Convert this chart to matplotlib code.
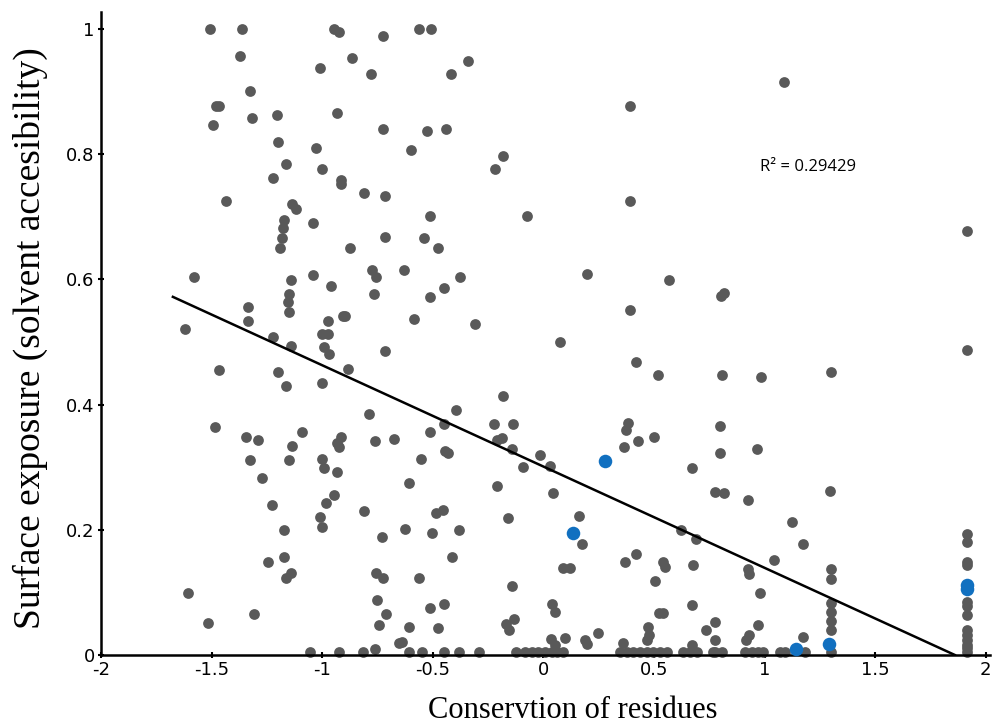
import numpy as np
import matplotlib
matplotlib.use("Agg")
import matplotlib.pyplot as plt
from matplotlib.ticker import FormatStrFormatter

# residues (conservation, surface exposure), grouped by area of the plot
upper_pts = [(-1.508, 1.000), (-1.363, 1.000), (-0.945, 1.000), (-0.922, 0.995), (-0.724, 0.989),
             (-1.372, 0.957), (-0.864, 0.954), (-1.008, 0.938), (-0.778, 0.928), (-1.327, 0.901),
             (-1.481, 0.877), (-1.467, 0.877), (-1.318, 0.858), (-1.205, 0.863), (-0.935, 0.866),
             (-1.494, 0.847), (-0.724, 0.840), (-1.200, 0.819), (-1.030, 0.810), (-1.164, 0.784),
             (-1.003, 0.776), (-1.223, 0.762), (-0.917, 0.759), (-0.917, 0.752), (-0.810, 0.738),
             (-0.716, 0.733), (-1.435, 0.725), (-1.137, 0.720), (-1.119, 0.712), (-1.173, 0.695),
             (-1.043, 0.690), (-1.178, 0.682), (-1.182, 0.666), (-0.716, 0.668), (-1.191, 0.650),
             (-0.873, 0.650), (-0.563, 1.000), (-0.509, 1.000), (-0.341, 0.949), (-0.418, 0.928),
             (0.391, 0.877), (-0.527, 0.837), (-0.441, 0.840), (-0.597, 0.807), (-0.183, 0.797),
             (-0.219, 0.776), (-0.513, 0.701), (-0.075, 0.701), (0.391, 0.725), (-0.540, 0.666),
             (1.087, 0.915), (1.915, 0.677)]

mid_left_pts = [(-1.580, 0.604), (-1.142, 0.599), (-1.043, 0.607), (-0.958, 0.589), (-0.774, 0.615),
                (-0.756, 0.604), (-0.765, 0.577), (-1.151, 0.577), (-1.155, 0.564), (-1.151, 0.548),
                (-1.336, 0.556), (-1.336, 0.534), (-1.621, 0.521), (-0.972, 0.534), (-0.904, 0.542),
                (-0.895, 0.542), (-1.003, 0.513), (-0.972, 0.513), (-1.223, 0.508), (-1.142, 0.494),
                (-0.994, 0.492), (-0.967, 0.481), (-0.716, 0.486), (-1.467, 0.455), (-1.200, 0.452),
                (-0.882, 0.457), (-1.164, 0.430), (-1.003, 0.435), (-0.787, 0.385), (-1.485, 0.364),
                (-1.092, 0.356), (-1.345, 0.348), (-1.291, 0.343), (-1.137, 0.334), (-0.917, 0.348),
                (-0.935, 0.339), (-0.926, 0.332), (-0.760, 0.342), (-0.675, 0.345), (-1.327, 0.311),
                (-1.151, 0.311), (-1.003, 0.313)]

mid_pts = [(-0.477, 0.650), (-0.630, 0.615), (-0.377, 0.604), (-0.450, 0.586), (-0.513, 0.572),
           (-0.585, 0.537), (-0.310, 0.529), (0.197, 0.609), (0.567, 0.599), (0.391, 0.551),
           (0.075, 0.500), (0.418, 0.468), (0.518, 0.447), (-0.183, 0.414), (-0.396, 0.391),
           (-0.224, 0.369), (-0.138, 0.369), (-0.513, 0.356), (-0.450, 0.369), (-0.188, 0.347),
           (-0.210, 0.343), (-0.142, 0.329), (-0.445, 0.326), (-0.432, 0.323), (-0.554, 0.313),
           (-0.016, 0.319), (0.382, 0.371), (0.373, 0.359), (0.427, 0.342), (0.500, 0.348),
           (0.364, 0.332), (0.802, 0.573), (0.816, 0.578), (1.915, 0.487), (0.807, 0.447),
           (0.983, 0.444), (1.300, 0.452), (0.798, 0.366), (0.798, 0.323), (0.965, 0.329)]

low_left_pts = [(-0.994, 0.299), (-0.935, 0.292), (-1.273, 0.283), (-0.945, 0.256), (-1.227, 0.240),
                (-0.985, 0.243), (-0.810, 0.230), (-1.008, 0.220), (-1.003, 0.204), (-1.173, 0.200),
                (-0.729, 0.188), (-1.173, 0.157), (-1.246, 0.149), (-1.142, 0.131), (-1.164, 0.123),
                (-0.756, 0.131), (-0.724, 0.123), (-1.607, 0.099), (-0.752, 0.088), (-1.309, 0.065),
                (-0.711, 0.065), (-1.517, 0.051), (-0.743, 0.048), (-1.056, 0.005), (-0.922, 0.005),
                (-0.814, 0.005), (-0.760, 0.010), (-0.653, 0.019)]

low_mid_pts = [(0.029, 0.302), (-0.093, 0.300), (-0.608, 0.275), (-0.210, 0.270), (0.043, 0.259),
               (0.160, 0.222), (-0.160, 0.219), (-0.486, 0.227), (-0.454, 0.232), (-0.626, 0.201),
               (-0.504, 0.195), (-0.382, 0.200), (0.174, 0.177), (-0.414, 0.157), (0.418, 0.161),
               (0.368, 0.149), (0.540, 0.149), (0.549, 0.141), (0.088, 0.139), (0.120, 0.139),
               (0.504, 0.118), (-0.563, 0.123), (-0.142, 0.110), (-0.450, 0.081), (-0.513, 0.075),
               (0.038, 0.081), (0.052, 0.069), (0.522, 0.067), (0.540, 0.067), (-0.133, 0.058),
               (-0.170, 0.050), (-0.156, 0.040), (-0.606, 0.045), (-0.477, 0.043), (0.246, 0.035),
               (0.472, 0.045), (0.477, 0.032), (0.468, 0.024), (0.097, 0.027), (0.188, 0.024),
               (0.197, 0.018), (-0.640, 0.021), (0.359, 0.019), (0.034, 0.026), (0.052, 0.016)]

low_right_pts = [(0.671, 0.080), (0.979, 0.099), (0.775, 0.053), (0.735, 0.040), (0.970, 0.048),
                 (0.929, 0.032), (0.915, 0.024), (0.671, 0.016), (0.775, 0.024), (0.671, 0.299),
                 (0.775, 0.260), (0.816, 0.259), (0.925, 0.248), (1.295, 0.262), (1.123, 0.212),
                 (1.173, 0.177), (0.622, 0.200), (0.689, 0.185), (0.676, 0.144), (1.042, 0.152),
                 (0.925, 0.137), (0.929, 0.129), (1.173, 0.029)]

# residues sitting on the x axis (exposure ~0)
floor_x = [-0.606, -0.549, -0.450, -0.382, -0.292, -0.124, -0.084, -0.052, -0.025, 0.007,
           0.038, 0.061, 0.088, 0.346, 0.377, 0.405, 0.436, 0.468, 0.495, 0.527, 0.558,
           0.631, 0.662, 0.694, 0.766, 0.775, 0.807, 0.911, 0.943, 0.970, 0.992, 1.069,
           1.092, 1.182, 1.300, 1.915]
floor_y = [0.005] * len(floor_x)

# stacks at conservation 1.30 and 1.915
col130_y = [0.137, 0.121, 0.083, 0.069, 0.054, 0.040]
col192_y = [0.193, 0.181, 0.149, 0.144, 0.085, 0.078, 0.064, 0.040, 0.032, 0.024, 0.016, 0.011]

# highlighted residues
blue_x = [0.278, 0.133, 1.141, 1.291, 1.915, 1.915]
blue_y = [0.310, 0.195, 0.010, 0.018, 0.112, 0.105]

# linear fit
fit_intercept = 0.301
fit_slope = -0.1618
fit_range = [-1.675, 1.86]
r2_text = "R\u00b2 = 0.29429"

pairs = np.array(upper_pts + mid_left_pts + mid_pts + low_left_pts + low_mid_pts + low_right_pts)
gray_x = np.concatenate([pairs[:, 0], floor_x, [1.30] * len(col130_y), [1.915] * len(col192_y)])
gray_y = np.concatenate([pairs[:, 1], floor_y, col130_y, col192_y])

fig = plt.figure(figsize=(9.92, 7.26), dpi=100)
ax = fig.add_axes([0.1018, 0.0978, 0.8964, 0.8857])

ax.scatter(gray_x, gray_y, s=60, color="#595959", linewidths=0, clip_on=False, zorder=2)
ax.scatter(blue_x, blue_y, s=95, color="#1170c0", linewidths=0, clip_on=False, zorder=3)

fx = np.array(fit_range)
ax.plot(fx, fit_intercept + fit_slope * fx, color="black", lw=1.8, zorder=4)

ax.text(0.979, 0.780, r2_text, fontsize=12, family=["Open Sans", "DejaVu Sans"],
        ha="left", va="center")

ax.set_xlim(-2, 2.02)
ax.set_ylim(0, 1.027)
ax.set_xticks([-2, -1.5, -1, -0.5, 0, 0.5, 1, 1.5, 2])
ax.set_yticks([0, 0.2, 0.4, 0.6, 0.8, 1])
ax.xaxis.set_major_formatter(FormatStrFormatter("%g"))
ax.yaxis.set_major_formatter(FormatStrFormatter("%g"))

tick_font = ["Liberation Sans Narrow", "DejaVu Sans"]
for lab in ax.get_xticklabels() + ax.get_yticklabels():
    lab.set_family(tick_font)
    lab.set_fontsize(13)
ax.tick_params(direction="inout", length=5, width=1.5, pad=2)

for side in ["top", "right"]:
    ax.spines[side].set_visible(False)
for side in ["left", "bottom"]:
    ax.spines[side].set_linewidth(1.8)

ax.set_xlabel("Conservtion of residues", fontsize=22, family="Liberation Serif")
ax.xaxis.set_label_coords(0.530, -0.064)
ax.set_ylabel("Surface exposure (solvent accesibility)", fontsize=27, family="Liberation Serif")
ax.yaxis.set_label_coords(-0.060, 0.493)

fig.savefig("out.png", dpi=100)
